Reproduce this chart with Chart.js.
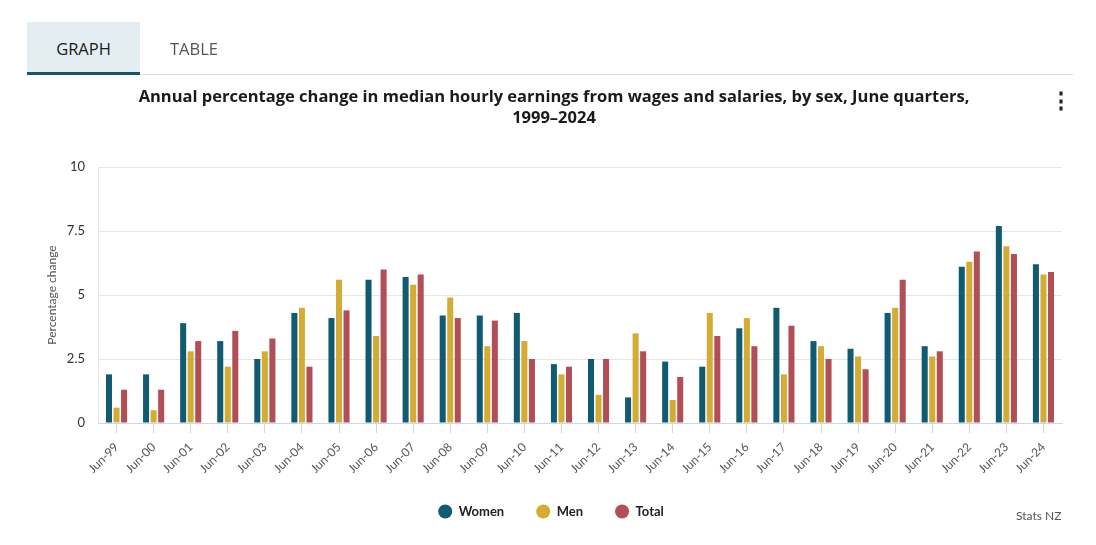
<!DOCTYPE html>
<html>
<head>
<meta charset="utf-8">
<script src="https://cdn.jsdelivr.net/npm/chart.js@4.4.1/dist/chart.umd.min.js"></script>
<style>
  body { margin: 0; background: #fff; font-family: Lato, "Open Sans", sans-serif; }
  #wrap { position: relative; width: 1096px; height: 545px; overflow: hidden; }
  #grafico { position: absolute; left: 0; top: 0; }
  .linha { position: absolute; left: 27px; top: 74px; width: 1046px; height: 1px; background: #dedede; }
  .aba { position: absolute; top: 22px; height: 50px; line-height: 53px; font-size: 16.5px; text-align: center;
         font-family: "Open Sans", sans-serif; }
  .aba.ativa { left: 27px; width: 113px; background: #e4edf1; border-bottom: 3px solid #1b5568; color: #1a1a1a; }
  .aba.outra { left: 140px; width: 108px; color: #555; }
  .titulo { position: absolute; left: 100px; top: 85px; width: 908px; text-align: center;
            font-family: "Open Sans", sans-serif;
            font-size: 16.5px; font-weight: bold; line-height: 21px; color: #1a1a1a; }
  .menu { position: absolute; left: 1050px; top: 86px; font-size: 22px; font-weight: bold; color: #222; }
  .fonte { position: absolute; left: 1016px; top: 508px; font-size: 12px; color: #555; }
</style>
</head>
<body>
<div id="wrap">
  <canvas id="grafico" width="1096" height="545"></canvas>
  <div class="linha"></div>
  <div class="aba ativa">GRAPH</div>
  <div class="aba outra">TABLE</div>
  <div class="titulo">Annual percentage change in median hourly earnings from wages and salaries, by sex, June quarters,<br>1999–2024</div>
  <div class="menu">⋮</div>
  <div class="fonte">Stats NZ</div>
</div>
<script>
const anos = ['Jun-99','Jun-00','Jun-01','Jun-02','Jun-03','Jun-04','Jun-05','Jun-06','Jun-07','Jun-08',
              'Jun-09','Jun-10','Jun-11','Jun-12','Jun-13','Jun-14','Jun-15','Jun-16','Jun-17','Jun-18',
              'Jun-19','Jun-20','Jun-21','Jun-22','Jun-23','Jun-24'];
const mulheres = [1.9, 1.9, 3.9, 3.2, 2.5, 4.3, 4.1, 5.6, 5.7, 4.2, 4.2, 4.3, 2.3, 2.5, 1.0, 2.4, 2.2, 3.7, 4.5, 3.2, 2.9, 4.3, 3.0, 6.1, 7.7, 6.2];
const homens   = [0.6, 0.5, 2.8, 2.2, 2.8, 4.5, 5.6, 3.4, 5.4, 4.9, 3.0, 3.2, 1.9, 1.1, 3.5, 0.9, 4.3, 4.1, 1.9, 3.0, 2.6, 4.5, 2.6, 6.3, 6.9, 5.8];
const total    = [1.3, 1.3, 3.2, 3.6, 3.3, 2.2, 4.4, 6.0, 5.8, 4.1, 4.0, 2.5, 2.2, 2.5, 2.8, 1.8, 3.4, 3.0, 3.8, 2.5, 2.1, 5.6, 2.8, 6.7, 6.6, 5.9];
const ticksY = [0, 2.5, 5, 7.5, 10];

const cor1 = '#115b72', cor2 = '#d4ac33', cor3 = '#b24e55';

const serie = (label, data, cor) => ({
    label: label,
    data: data,
    backgroundColor: cor,
    borderWidth: 0,
    categoryPercentage: 0.61,
    barPercentage: 0.8
});

const ctx = document.getElementById('grafico').getContext('2d');
const grafico = new Chart(ctx, {
    type: 'bar',
    data: {
        labels: anos,
        datasets: [
            serie('Women', mulheres, cor1),
            serie('Men', homens, cor2),
            serie('Total', total, cor3)
        ]
    },
    options: {
        responsive: false,
        animation: false,
        layout: { padding: { top: 167, right: 34, left: 40, bottom: 17 } },
        plugins: {
            tooltip: { enabled: false },
            legend: {
                position: 'bottom',
                labels: {
                    usePointStyle: true,
                    pointStyle: 'circle',
                    pointStyleWidth: 14,
                    boxHeight: 10,
                    padding: 32,
                    color: '#222',
                    font: { family: 'Lato', size: 13, weight: 'bold' }
                }
            }
        },
        scales: {
            x: {
                afterFit: s => { s.height = 50; },
                grid: { display: true, drawOnChartArea: false, offset: false, tickLength: 10, color: '#ccd6eb' },
                border: { color: '#ccd6eb' },
                ticks: {
                    autoSkip: false, minRotation: 45, maxRotation: 45, padding: 7,
                    color: '#555', font: { family: 'Lato', size: 12 }
                }
            },
            y: {
                min: 0, max: 10,
                afterFit: s => { s.width = 58; },
                afterBuildTicks: s => { s.ticks = ticksY.map(v => ({ value: v })); },
                grid: { color: '#e6e6e6', drawTicks: false },
                border: { color: '#e6e6e6' },
                ticks: { padding: 13, color: '#333', font: { family: 'Lato', size: 13 } },
                title: {
                    display: true, text: 'Percentage change', padding: { top: 5 },
                    color: '#555', font: { family: 'Lato', size: 12 }
                }
            }
        }
    }
});
</script>
</body>
</html>
